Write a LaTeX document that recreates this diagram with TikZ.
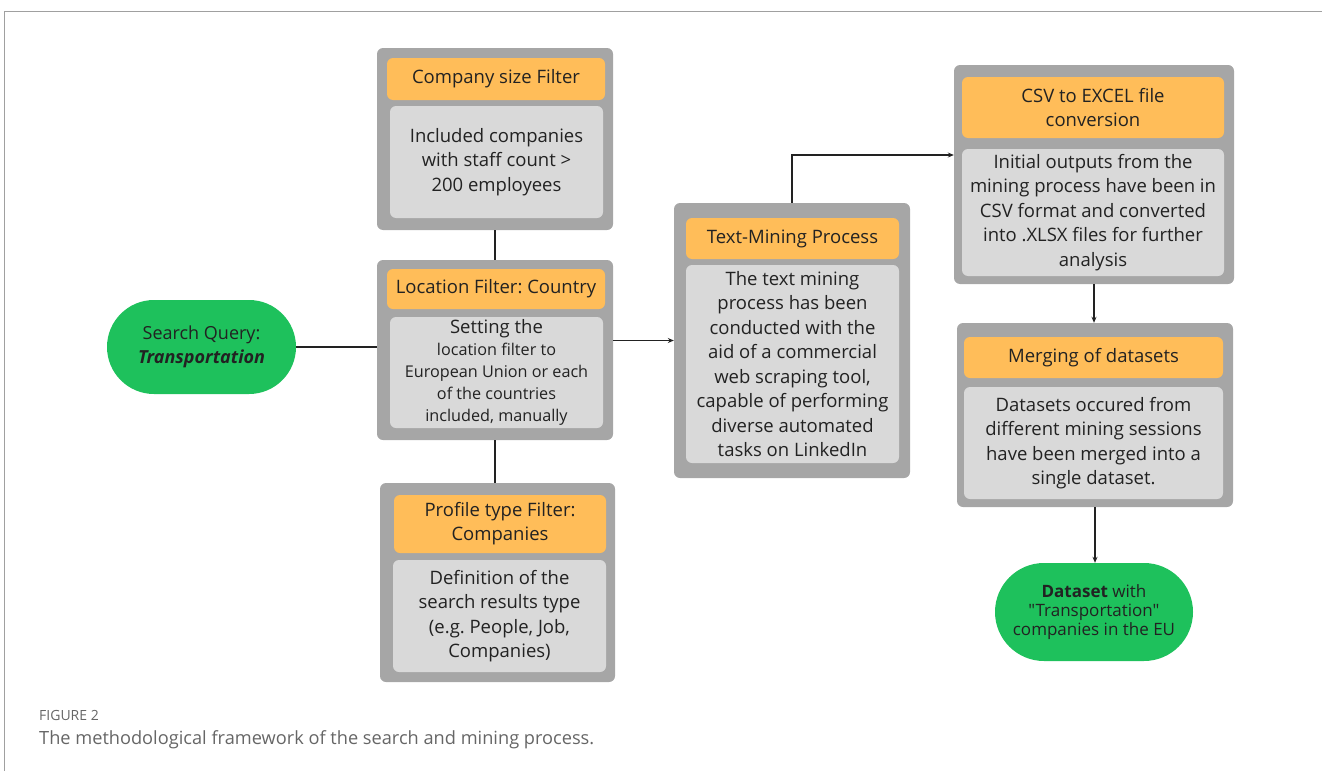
\documentclass[tikz,border=0pt]{standalone}
\usepackage{fontspec}
\setmainfont{Open Sans}[Ligatures=TeXOff]
\frenchspacing
\usetikzlibrary{arrows.meta}
\definecolor{framegray}{HTML}{A0A0A0}
\definecolor{boxgray}{HTML}{A6A6A6}
\definecolor{bodygray}{HTML}{D9D9D9}
\definecolor{headorange}{HTML}{FFBD59}
\definecolor{termgreen}{HTML}{1EC15C}
\definecolor{inkdark}{HTML}{222222}
\definecolor{captiongray}{HTML}{666666}
\begin{document}
\begin{tikzpicture}[x=1pt,y=-1pt,
  outerbox/.style={fill=boxgray, rounded corners=6pt, inner sep=0pt},
  headbox/.style={fill=headorange, rounded corners=6pt, inner sep=0pt, align=center,
    text=inkdark, font=\fontsize{18.5}{24}\selectfont},
  bodybox/.style={fill=bodygray, rounded corners=6pt, inner sep=0pt, align=center,
    text=inkdark, font=\fontsize{18.5}{24.5}\selectfont},
  term/.style={fill=termgreen, inner sep=0pt, align=center, text=inkdark},
  link/.style={draw=inkdark, line width=1.1pt},
  flow/.style={link, -{Stealth[length=6pt,width=5pt]}},
]
\useasboundingbox (0,0) rectangle (1322,771);

% page frame
\draw[framegray, line width=1pt] (4,771) -- (4,11) -- (1322,11);

% start terminal
\node[term, rounded corners=47pt, minimum width=189pt, minimum height=94pt,
  font=\fontsize{18}{24}\selectfont] (query) at (201.5,347)
  {Search Query:\\\textbf{\textit{Transportation}}};

% company size filter
\node[outerbox, minimum width=236pt, minimum height=182pt] (size) at (495,139) {};
\node[headbox, minimum width=218pt, minimum height=42pt] (sizehead) at (496,79)
  {Company size Filter};
\node[bodybox, minimum width=213pt, minimum height=112pt] (sizebody) at (496.5,162)
  {Included companies\\with staff count >\\200 employees};

% location filter
\node[outerbox, minimum width=236pt, minimum height=180pt] (loc) at (495,350) {};
\node[headbox, minimum width=218pt, minimum height=40pt] (lochead) at (496,289)
  {Location Filter: Country};
\node[bodybox, minimum width=213pt, minimum height=111pt,
  font=\fontsize{16.2}{22}\selectfont] (locbody) at (496.5,372.5)
  {{\fontsize{18.5}{22}\selectfont Setting the}\\location filter to\\European Union or each\\of the countries\\included, manually};

% profile type filter
\node[outerbox, minimum width=235pt, minimum height=199pt] (prof) at (497.5,582.5) {};
\node[headbox, minimum width=212pt, minimum height=58pt] (profhead) at (500,524)
  {Profile type Filter:\\Companies};
\node[bodybox, minimum width=213pt, minimum height=112pt] (profbody) at (499.5,616)
  {Definition of the\\search results type\\(e.g. People, Job,\\Companies)};

% text mining
\node[outerbox, minimum width=236pt, minimum height=275pt] (mine) at (792,340.5) {};
\node[headbox, minimum width=213pt, minimum height=41pt] (minehead) at (792.5,238.5)
  {Text-Mining Process};
\node[bodybox, minimum width=213pt, minimum height=198pt] (minebody) at (792.5,364)
  {The text mining\\process has been\\conducted with the\\aid of a commercial\\web scraping tool,\\capable of performing\\diverse automated\\tasks on LinkedIn};

% csv conversion
\node[outerbox, minimum width=280pt, minimum height=219pt] (csv) at (1094,174.5) {};
\node[headbox, minimum width=262pt, minimum height=61pt] (csvhead) at (1093,107.5)
  {CSV to EXCEL file\\conversion};
\node[bodybox, minimum width=262pt, minimum height=127pt] (csvbody) at (1093,212.5)
  {Initial outputs from the\\mining process have been in\\CSV format and converted\\into .XLSX files for further\\analysis};

% merging
\node[outerbox, minimum width=276pt, minimum height=184pt] (merge) at (1095,415) {};
\node[headbox, minimum width=259pt, minimum height=41pt] (mergehead) at (1093.5,357.5)
  {Merging of datasets};
\node[bodybox, minimum width=259pt, minimum height=112pt] (mergebody) at (1093.5,443)
  {Datasets occured from\\different mining sessions\\have been merged into a\\single dataset.};

% end terminal
\node[term, rounded corners=49pt, minimum width=198pt, minimum height=98pt,
  font=\fontsize{17}{19}\selectfont] (result) at (1094,612)
  {\textbf{Dataset} with\\"Transportation"\\companies in the EU};

% connectors
\draw[link] (query.east) -- (query.east -| loc.west);
\draw[link] (size.south) -- (loc.north);
\draw[link] (loc.south) -- (loc.south |- prof.north);
\draw[flow] (loc.east |- mine.west) -- (mine.west);
\draw[flow] (mine.north) |- ([yshift=19.5pt]csv.west);
\draw[flow] (csv.south) -- (csv.south |- merge.north);
\draw[flow] (merge.south) -- (merge.south |- result.north);

% caption
\node[anchor=west, inner sep=0pt, text=captiongray, font=\fontsize{14}{16}\selectfont]
  (figlabel) at (39,715) {FIGURE 2};
\node[anchor=west, inner sep=0pt, text=captiongray, font=\fontsize{18.2}{20}\selectfont]
  (figcaption) at (39,740) {The methodological framework of the search and mining process.};
\end{tikzpicture}
\end{document}
